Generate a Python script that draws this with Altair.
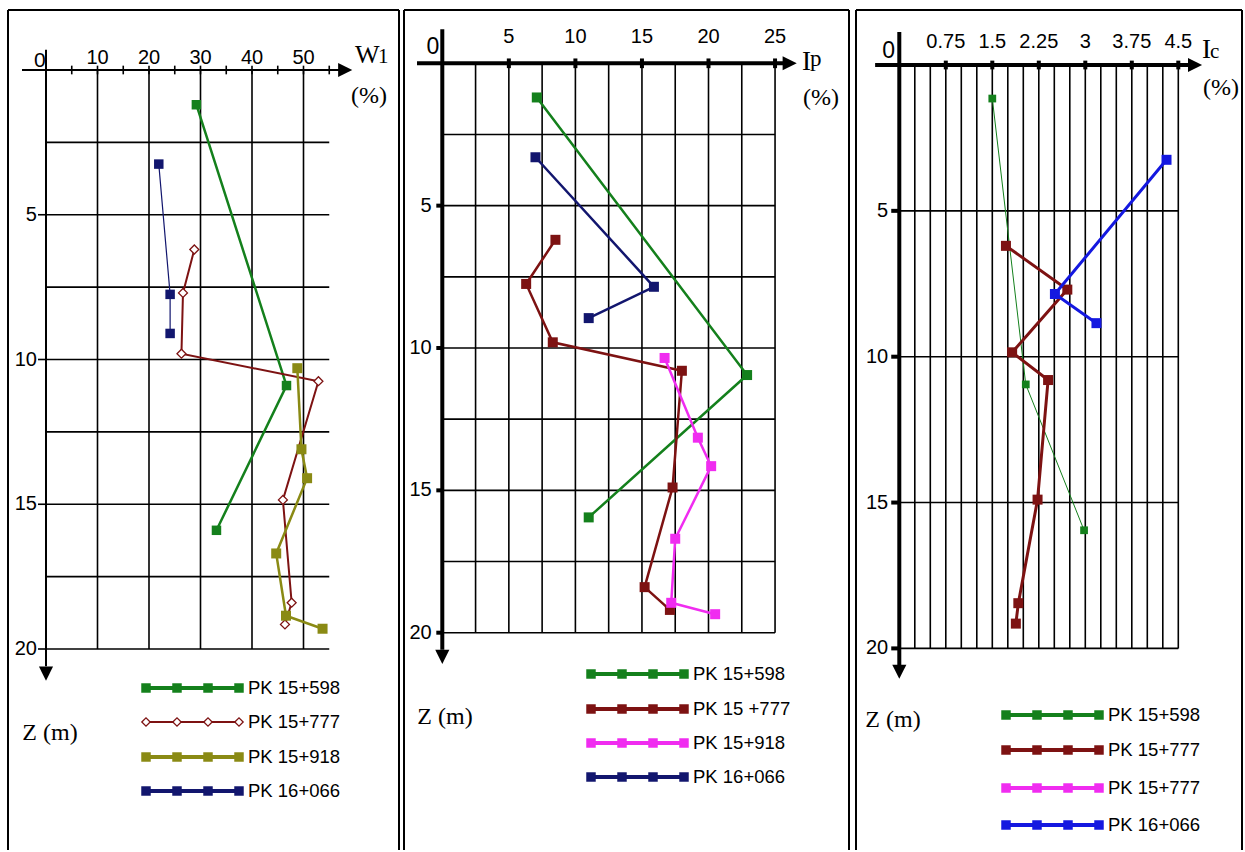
import altair as alt
import pandas as pd

H = 850  # height of every panel, px

# ---------------- measured profiles (depth Z in m, value) ----------------
# Liquid limit W1 (%)
WL_Z_15598 = [1.2, 10.9, 15.9]
WL_15598 = [29.2, 46.7, 33.1]
WL_Z_15777 = [6.2, 7.7, 9.8, 10.75, 14.85, 18.4, 19.15]
WL_15777 = [28.8, 26.6, 26.3, 52.9, 46.0, 47.7, 46.4]
WL_Z_15918 = [10.3, 13.1, 14.1, 16.7, 18.85, 19.3]
WL_15918 = [48.8, 49.6, 50.7, 44.7, 46.6, 53.7]
WL_Z_16066 = [3.25, 7.75, 9.1]
WL_16066 = [21.9, 24.1, 24.1]

# Plasticity index Ip (%)
IP_Z_15598 = [1.2, 10.95, 15.95]
IP_15598 = [7.1, 22.9, 11.0]
IP_Z_15777 = [6.2, 7.75, 9.8, 10.8, 14.9, 18.4, 19.2]
IP_15777 = [8.5, 6.3, 8.3, 18.0, 17.3, 15.2, 17.1]
IP_Z_15918 = [10.35, 13.15, 14.15, 16.7, 18.95, 19.35]
IP_15918 = [16.7, 19.2, 20.2, 17.5, 17.2, 20.5]
IP_Z_16066 = [3.3, 7.85, 8.95]
IP_16066 = [7.0, 15.9, 11.0]

# Consistency index Ic
IC_Z_15598 = [1.15, 10.95, 15.95]
IC_15598 = [1.5, 2.04, 2.98]
IC_Z_15777 = [6.2, 7.7, 9.85, 10.8, 14.9, 18.45, 19.15]
IC_15777 = [1.72, 2.71, 1.82, 2.40, 2.23, 1.92, 1.88]
IC_Z_16066 = [3.25, 7.85, 8.85]
IC_16066 = [4.31, 2.51, 3.18]

LEG_WL = ["PK 15+598", "PK 15+777", "PK 15+918", "PK 16+066"]
LEG_IP = ["PK 15+598", "PK 15 +777", "PK 15+918", "PK 16+066"]
LEG_IC = ["PK 15+598", "PK 15+777", "PK 15+777", "PK 16+066"]

WL_TICKS = [0, 10, 20, 30, 40, 50]
IP_TICKS = [0, 5, 10, 15, 20, 25]
IC_TICKS = [0, 0.75, 1.5, 2.25, 3, 3.75, 4.5]
IC_TICK_TEXT = ["0", "0.75", "1.5", "2.25", "3", "3.75", "4.5"]
Z_TICKS = [5, 10, 15, 20]

GREEN = "#14801c"
MAROON = "#7d1212"
OLIVE = "#8a8a14"
NAVY = "#12166e"
MAGENTA = "#f02cf0"
BLUE = "#1418e0"

SERIF = "Liberation Serif, Times New Roman, serif"
SANS = "Liberation Sans, Arial, sans-serif"
TICK_SIZE = 20
LEG_SIZE = 18.5

RIGHT_ARROW = "M-1,-1L1,0L-1,1Z"
DOWN_ARROW = "M-1,-1L1,-1L0,1Z"


def scales(w, x0, xppu, y0, yppu):
    xs = alt.Scale(domain=[-x0 / xppu, (w - x0) / xppu], nice=False, zero=False)
    ys = alt.Scale(domain=[-y0 / yppu, (H - y0) / yppu], nice=False, zero=False, reverse=True)
    return xs, ys


def data_rules(rows, xs, ys, width, color="black"):
    df = pd.DataFrame(rows, columns=["a", "a2", "b", "b2"])
    return alt.Chart(df).mark_rule(color=color, strokeWidth=width).encode(
        x=alt.X("a:Q", scale=xs, axis=None), x2=alt.X2("a2"),
        y=alt.Y("b:Q", scale=ys, axis=None), y2=alt.Y2("b2"))


def px_rules(rows, width=2, color="black"):
    df = pd.DataFrame(rows, columns=["px", "px2", "py", "py2"])
    return alt.Chart(df).mark_rule(color=color, strokeWidth=width).encode(
        x=alt.X("px:Q", scale=None, axis=None), x2=alt.X2("px2"),
        y=alt.Y("py:Q", scale=None, axis=None), y2=alt.Y2("py2"))


def data_text(rows, xs, ys, size, align, baseline, font=SANS):
    df = pd.DataFrame(rows, columns=["a", "b", "t"])
    return alt.Chart(df).mark_text(font=font, fontSize=size, align=align,
                                   baseline=baseline, color="black").encode(
        x=alt.X("a:Q", scale=xs, axis=None),
        y=alt.Y("b:Q", scale=ys, axis=None), text="t:N")


def px_text(rows, size, align="center", baseline="middle", font=SERIF):
    df = pd.DataFrame(rows, columns=["px", "py", "t"])
    return alt.Chart(df).mark_text(font=font, fontSize=size, align=align,
                                   baseline=baseline, color="black").encode(
        x=alt.X("px:Q", scale=None, axis=None),
        y=alt.Y("py:Q", scale=None, axis=None), text="t:N")


def arrows(points, shape, xs, ys, size=200):
    df = pd.DataFrame(points, columns=["a", "b"])
    return alt.Chart(df).mark_point(shape=shape, filled=True, color="black",
                                    opacity=1, size=size).encode(
        x=alt.X("a:Q", scale=xs, axis=None), y=alt.Y("b:Q", scale=ys, axis=None))


def marker(chart, st):
    if st.get("hollow"):
        return chart.mark_point(shape=st["shape"], size=st["size"], filled=True,
                                fill="white", stroke=st["color"], strokeWidth=1.3,
                                opacity=1)
    return chart.mark_point(shape=st["shape"], size=st["size"], filled=True,
                            color=st["color"], opacity=1)


def series(vals, depths, st, xs, ys):
    df = pd.DataFrame({"v": vals, "z": depths, "i": list(range(len(vals)))})
    base = alt.Chart(df).encode(
        x=alt.X("v:Q", scale=xs, axis=None),
        y=alt.Y("z:Q", scale=ys, axis=None),
        order=alt.Order("i:Q"))
    line = base.mark_line(color=st["color"], strokeWidth=st["lw"])
    return [line, marker(base, st)]


def legend(x0, rows_y, labels, styles):
    out = []
    for y, lab, st in zip(rows_y, labels, styles):
        out.append(px_rules([(x0, x0 + 100, y, y)], width=st["lw"], color=st["color"]))
        pts = pd.DataFrame({"px": [x0 + 3, x0 + 34, x0 + 65, x0 + 96], "py": [y] * 4})
        base = alt.Chart(pts).encode(x=alt.X("px:Q", scale=None, axis=None),
                                     y=alt.Y("py:Q", scale=None, axis=None))
        out.append(marker(base, st))
    out.append(px_text([(x0 + 105, y, lab) for y, lab in zip(rows_y, labels)],
                       LEG_SIZE, align="left", font=SANS))
    return out


def sq(color, lw, size=100):
    return {"color": color, "lw": lw, "shape": "square", "size": size}


# ---------------- panel 1 : W1 ----------------
W1 = 403
xs, ys = scales(W1, 46, 5.15, 70, 28.95)
p1_layers = [
    data_rules([(0, 55, z, z) for z in [2.5 * k for k in range(1, 9)]], xs, ys, 1.6),
    data_rules([(x, x, 0, 20) for x in WL_TICKS[1:]], xs, ys, 1.6),
    data_rules([(x, x, -0.15, 0.15) for x in range(5, 60, 5)], xs, ys, 1.6),
    data_rules([(-1.55, 0, z, z) for z in Z_TICKS], xs, ys, 1.6),
    data_rules([(-4.66, 57.6, 0, 0), (0, 0, -0.7, 20.6)], xs, ys, 2),
    arrows([(58.1, 0)], RIGHT_ARROW, xs, ys),
    arrows([(0, 20.85)], DOWN_ARROW, xs, ys),
    data_text([(x, -0.2, str(x)) for x in WL_TICKS[1:]], xs, ys, TICK_SIZE, "center", "alphabetic"),
    data_text([(-1.2, -0.12, "0")], xs, ys, TICK_SIZE + 1, "center", "alphabetic"),
    data_text([(-1.75, z, str(z)) for z in Z_TICKS], xs, ys, TICK_SIZE, "right", "middle"),
    px_rules([(8, 8, 10, 850), (8, 399, 10, 10), (399, 399, 10, 850)], width=2),
    px_text([(355, 63, "W")], 26, align="left", baseline="alphabetic"),
    px_text([(378, 63, "1")], 21, align="left", baseline="alphabetic"),
    px_text([(369, 96, "(%)")], 24),
    px_text([(50, 733, "Z (m)")], 24),
]
st_wl = [sq(GREEN, 2.5, 90),
         {"color": MAROON, "lw": 2, "shape": "diamond", "size": 80, "hollow": True},
         sq(OLIVE, 2.5, 100), sq(NAVY, 1.2, 90)]
for vals, zs, st in zip([WL_15598, WL_15777, WL_15918, WL_16066],
                        [WL_Z_15598, WL_Z_15777, WL_Z_15918, WL_Z_16066], st_wl):
    p1_layers += series(vals, zs, st, xs, ys)
leg_wl = [sq(GREEN, 4, 90),
          {"color": MAROON, "lw": 2, "shape": "diamond", "size": 70, "hollow": True},
          sq(OLIVE, 4, 90), sq(NAVY, 4, 90)]
p1_layers += legend(143, [688, 722, 757, 791], LEG_WL, leg_wl)
p1 = alt.layer(*p1_layers).properties(width=W1, height=H)

# ---------------- panel 2 : Ip ----------------
W2 = 449
OFF2 = 403
xs, ys = scales(W2, 442.3 - OFF2, 13.31, 63.3, 28.47)
p2_layers = [
    data_rules([(0, 25, z, z) for z in [2.5 * k for k in range(1, 9)]], xs, ys, 1.6),
    data_rules([(x, x, 0, 20) for x in [2.5 * k for k in range(1, 11)]], xs, ys, 1.6),
    data_rules([(x, x, -0.17, 0.17) for x in IP_TICKS[1:]], xs, ys, 4),
    data_rules([(-0.45, 0, z, z) for z in Z_TICKS], xs, ys, 4),
    data_rules([(-1.9, 25.9, 0, 0), (0, 0, -1.2, 20.6)], xs, ys, 4),
    arrows([(26.1, 0)], RIGHT_ARROW, xs, ys),
    arrows([(0, 20.85)], DOWN_ARROW, xs, ys),
    data_text([(x, -0.72, str(x)) for x in IP_TICKS[1:]], xs, ys, TICK_SIZE, "center", "alphabetic"),
    data_text([(-0.7, -0.33, "0")], xs, ys, TICK_SIZE + 3, "center", "alphabetic"),
    data_text([(-0.8, z, str(z)) for z in Z_TICKS], xs, ys, TICK_SIZE, "right", "middle"),
    px_rules([(1, 1, 10, 850), (1, 446, 10, 10), (446, 446, 10, 850)], width=2),
    px_text([(802 - OFF2, 70, "I")], 27, align="left", baseline="alphabetic"),
    px_text([(810 - OFF2, 66, "p")], 23, align="left", baseline="alphabetic"),
    px_text([(821 - OFF2, 98, "(%)")], 24),
    px_text([(445 - OFF2, 717, "Z (m)")], 24),
]
st_ip = [sq(GREEN, 2.5), sq(MAROON, 2.5), sq(MAGENTA, 2.5), sq(NAVY, 2.5)]
for vals, zs, st in zip([IP_15598, IP_15777, IP_15918, IP_16066],
                        [IP_Z_15598, IP_Z_15777, IP_Z_15918, IP_Z_16066], st_ip):
    p2_layers += series(vals, zs, st, xs, ys)
leg_ip = [sq(GREEN, 4, 90), sq(MAROON, 4, 90), sq(MAGENTA, 4, 90), sq(NAVY, 4, 90)]
p2_layers += legend(588 - OFF2, [674, 709, 743, 777], LEG_IP, leg_ip)
p2 = alt.layer(*p2_layers).properties(width=W2, height=H)

# ---------------- panel 3 : Ic ----------------
W3 = 393
OFF3 = 852
xs, ys = scales(W3, 899.3 - OFF3, 62.0, 65, 29.17)
p3_layers = [
    data_rules([(0, 4.5, z, z) for z in Z_TICKS], xs, ys, 1.6),
    data_rules([(x, x, 0, 20) for x in [0.25 * k for k in range(1, 19)]], xs, ys, 1.6),
    data_rules([(x, x, -0.15, 0.15) for x in IC_TICKS[1:]], xs, ys, 4),
    data_rules([(-0.13, 0, z, z) for z in Z_TICKS], xs, ys, 4),
    data_rules([(-0.39, 4.72, 0, 0), (0, 0, -1.13, 20.6)], xs, ys, 4),
    arrows([(4.77, 0)], RIGHT_ARROW, xs, ys),
    arrows([(0, 20.8)], DOWN_ARROW, xs, ys),
    data_text([(x, -0.58, t) for x, t in zip(IC_TICKS[1:], IC_TICK_TEXT[1:])],
              xs, ys, TICK_SIZE, "center", "alphabetic"),
    data_text([(-0.17, -0.24, "0")], xs, ys, TICK_SIZE + 3, "center", "alphabetic"),
    data_text([(-0.18, z, str(z)) for z in Z_TICKS], xs, ys, TICK_SIZE, "right", "middle"),
    px_rules([(4, 4, 10, 850), (4, 390, 10, 10), (390, 390, 10, 850)], width=2),
    px_text([(1202 - OFF3, 58, "I")], 27, align="left", baseline="alphabetic"),
    px_text([(1210 - OFF3, 58, "c")], 21, align="left", baseline="alphabetic"),
    px_text([(1221 - OFF3, 88, "(%)")], 24),
    px_text([(893 - OFF3, 720, "Z (m)")], 24),
]
st_ic = [sq(GREEN, 1, 60), sq(MAROON, 3, 100), sq(BLUE, 3, 100)]
for vals, zs, st in zip([IC_15598, IC_15777, IC_16066],
                        [IC_Z_15598, IC_Z_15777, IC_Z_16066], st_ic):
    p3_layers += series(vals, zs, st, xs, ys)
leg_ic = [sq(GREEN, 4, 90), sq(MAROON, 4, 90), sq(MAGENTA, 4, 90), sq(BLUE, 4, 90)]
p3_layers += legend(1003 - OFF3, [715, 750, 788, 825], LEG_IC, leg_ic)
p3 = alt.layer(*p3_layers).properties(width=W3, height=H)

chart = alt.hconcat(p1, p2, p3, spacing=0, bounds="flush").properties(
    padding=0, background="white"
).configure_view(strokeWidth=0)

chart.save("out.html", embed_options={"renderer": "svg", "actions": False})
